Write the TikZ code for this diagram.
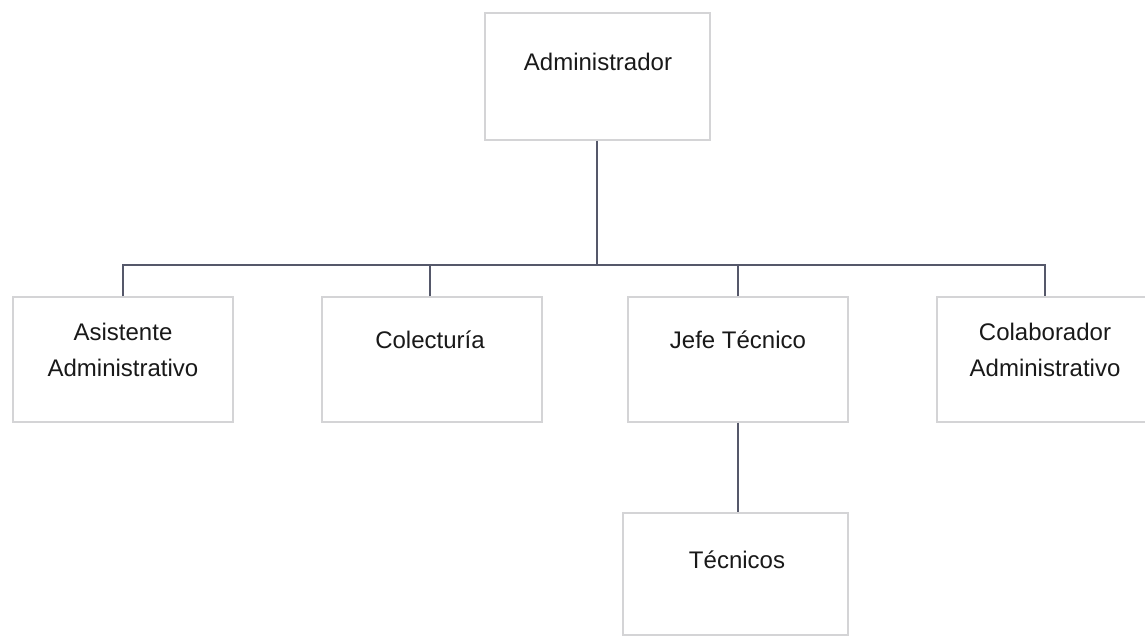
\documentclass[tikz,border=0pt]{standalone}
\usepackage{fontspec}
\setmainfont{Liberation Sans}
\definecolor{boxline}{HTML}{D4D4D6}
\definecolor{conn}{HTML}{55586A}
\tikzset{
  x=1pt, y=-1pt,
  orgbox/.style={draw=boxline, line width=1.2pt, rectangle, inner sep=0pt},
  lbl/.style={font=\fontsize{24}{36}\selectfont, align=center, text=black!90, inner sep=0pt},
  link/.style={draw=conn, line width=1.3pt}
}
\begin{document}
\begin{tikzpicture}
\clip (0,0) rectangle (1145,639);
\fill[white] (0,0) rectangle (1145,639);
% boxes
\node[orgbox, minimum width=225pt, minimum height=127pt] (admin) at (597.5,76.5) {};
\node[orgbox, minimum width=220pt, minimum height=125pt] (asis) at (123,359.5) {};
\node[orgbox, minimum width=220pt, minimum height=125pt] (cole) at (432,359.5) {};
\node[orgbox, minimum width=220pt, minimum height=125pt] (jefe) at (738,359.5) {};
\node[orgbox, minimum width=225pt, minimum height=125pt] (cola) at (1049.5,359.5) {};
\node[orgbox, minimum width=225pt, minimum height=122pt] (tecn) at (735.5,574) {};
% labels
\node[lbl] (tadmin) at (598,62) {Administrador};
\node[lbl] (tasis) at (123,350) {Asistente\\Administrativo};
\node[lbl] (tcole) at (430,340) {Colectur\'ia};
\node[lbl] (tjefe) at (738,340) {Jefe T\'ecnico};
\node[lbl] (tcola) at (1045,350) {Colaborador\\Administrativo};
\node[lbl] (ttecn) at (737,560) {T\'ecnicos};
% connectors
\coordinate (bus) at (597,265);
\draw[link] (admin.south -| bus) -- (bus);
\draw[link] (asis.north) |- (bus) -| (cola.north -| 1045,0);
\draw[link] (cole.north -| 430,0) -- (430,265);
\draw[link] (jefe.north) -- (738,265);
\draw[link] (jefe.south) -- (tecn.north -| jefe.south);
\end{tikzpicture}
\end{document}
